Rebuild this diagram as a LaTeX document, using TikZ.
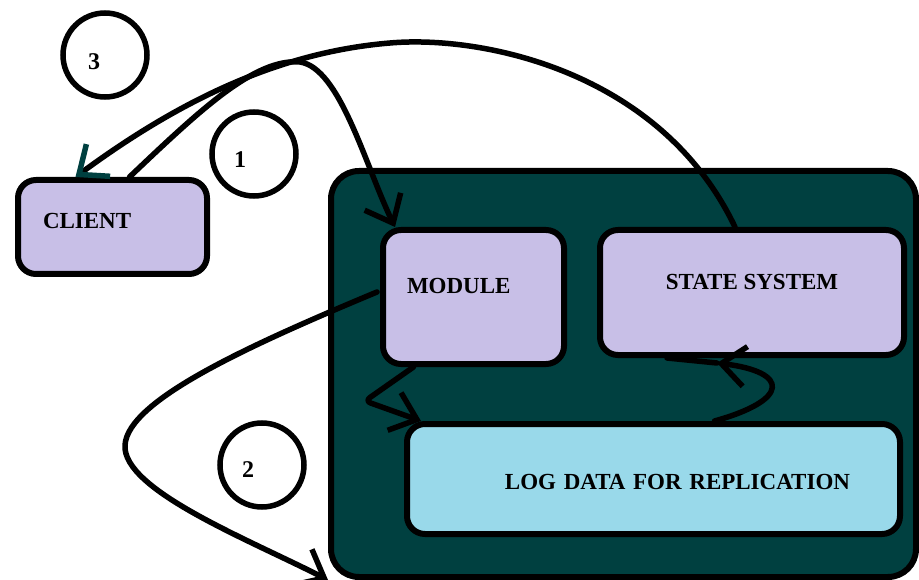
\documentclass[tikz,border=0pt]{standalone}
\usepackage{fontspec}
\setmainfont{Liberation Serif}
\usetikzlibrary{arrows.meta}
\definecolor{deepteal}{RGB}{0,64,64}
\definecolor{lilac}{RGB}{200,191,231}
\definecolor{iceblue}{RGB}{153,217,234}
\tikzstyle{block} = [rectangle, draw, line width=6pt, fill=lilac, rounded corners=18pt,
    inner sep=0pt, text height=16pt, font=\fontsize{23}{27}\selectfont\bfseries]
\tikzstyle{ring} = [circle, draw, line width=5.5pt, minimum size=84pt]

\begin{document}
\begin{tikzpicture}[
x=1pt, y=-1pt,
num/.style = {font=\fontsize{24}{28}\selectfont\bfseries, inner sep=0pt},
flow/.style = {draw, line width=5.5pt, line cap=round, line join=round,
               -{Straight Barb[length=24pt, width=40pt]}}
                        ]
\useasboundingbox (0,0) rectangle (919,580);
% container
\node [rectangle, draw, line width=6pt, fill=deepteal, rounded corners=28pt,
       minimum width=585pt, minimum height=406pt] (system) at (623.5,374) {};
% boxes
\node [block, minimum width=189pt, minimum height=94pt, text width=139pt,
       align=left, text depth=12pt] (client) at (112.5,227) {CLIENT};
\node [block, minimum width=181pt, minimum height=134pt, text width=133pt,
       align=left, text depth=22pt] (module) at (473.5,297) {MODULE};
\node [block, minimum width=304pt, minimum height=125pt,
       text depth=22pt] (state) at (752,292.5) {STATE SYSTEM};
\node [block, fill=iceblue, minimum width=493pt, minimum height=110pt, text width=393pt,
       align=right, text height=21pt, text depth=0pt] (log) at (653.5,479) {LOG DATA FOR REPLICATION};
% step numbers
\node [ring] (ring3) at (105,55) {};
\node [num] (n3) at ([shift={(-11,7)}]ring3.center) {3};
\node [ring] (ring1) at (254,154) {};
\node [num] (n1) at ([shift={(-14,6)}]ring1.center) {1};
\node [ring] (ring2) at (262,465) {};
\node [num] (n2) at ([shift={(-14,5)}]ring2.center) {2};
% 1: client -> module
\draw [flow] ([xshift=17pt]client.north) .. controls (200,110) and (255,58) .. (300,62)
      .. controls (340,68) and (365,165) .. ([xshift=15pt]module.north west);
% 3: state system -> client
\draw [flow, -{Straight Barb[length=24pt, width=40pt, color=deepteal]}]
      ([xshift=-17pt]state.north) .. controls (660,70) and (480,35) .. (390,43)
      .. controls (280,52) and (180,100) .. ([xshift=-37pt]client.north);
% 2: module -> out of the system
\draw [flow] ([shift={(-3,-5)}]module.west) .. controls (250,345) and (128,400) .. (125,445)
      .. controls (122,490) and (250,540) .. (system.south west);
% module -> log
\draw [flow, rounded corners=6pt] ([xshift=-60pt]module.south) -- (365,401)
      -- ([xshift=17pt]log.north west);
% log -> state system
\coordinate (merge) at (717,363);
\draw [flow] ([xshift=61pt]log.north) .. controls (790,400) and (790,372) .. (merge);
\draw [line width=5.5pt, line cap=round] (merge) -- ([xshift=-85pt]state.south);
\end{tikzpicture}
\end{document}
